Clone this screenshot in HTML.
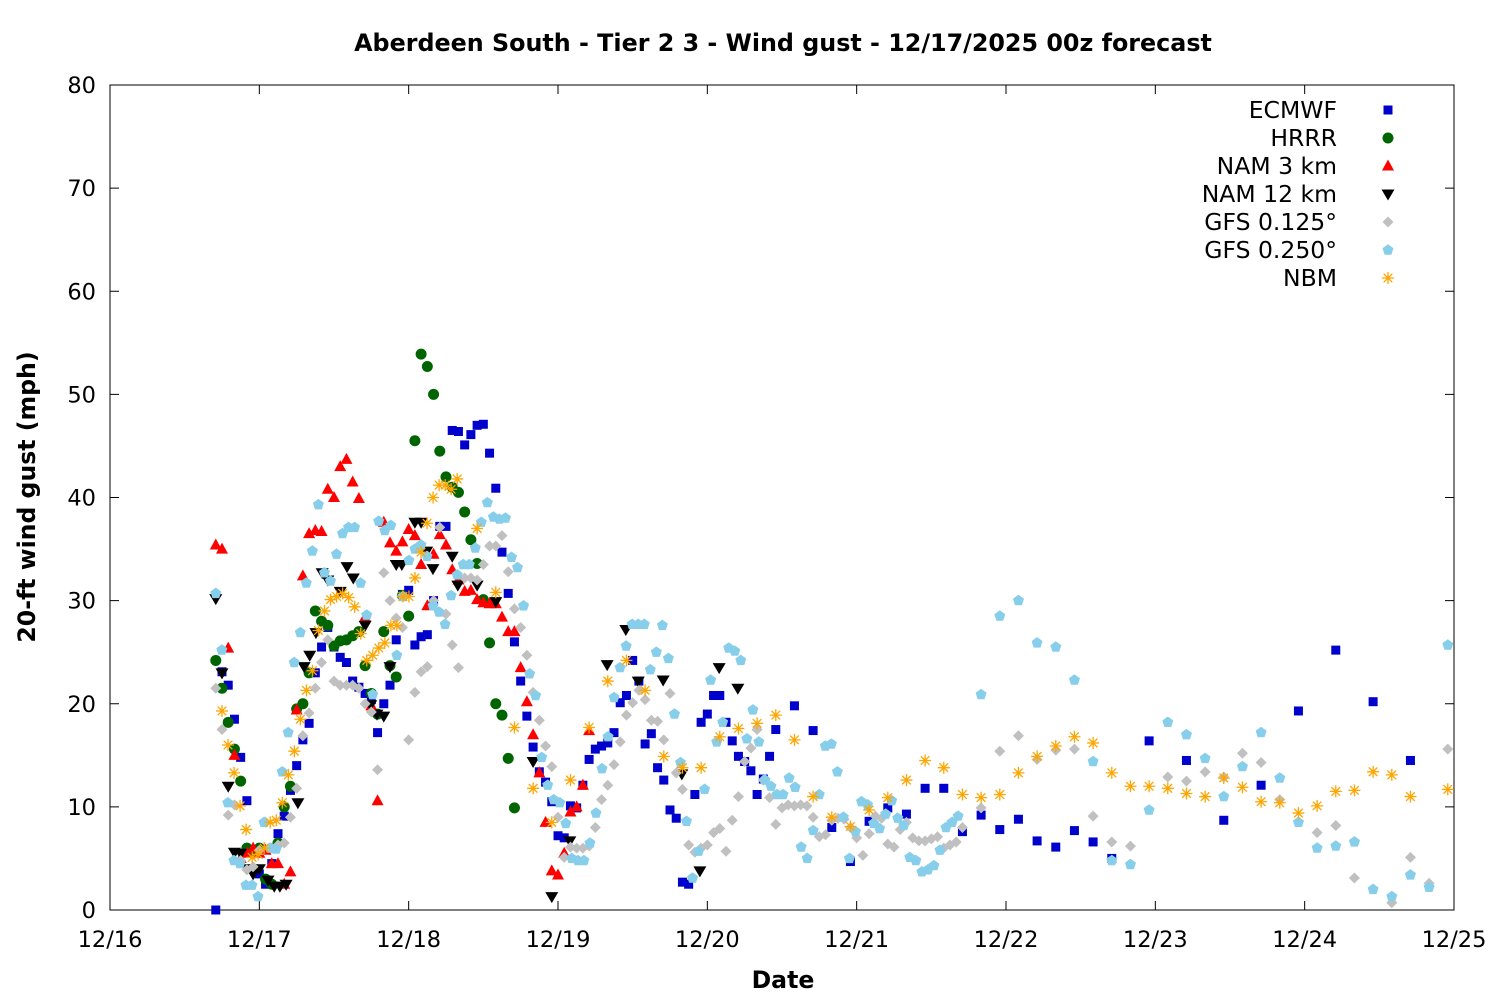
<!DOCTYPE html>
<html><head><meta charset="utf-8">
<style>
html,body{margin:0;padding:0;background:#fff;}
svg{display:block;font-family:"DejaVu Sans","Liberation Sans",sans-serif;}
</style></head>
<body>
<svg id="chart" width="1500" height="1000" viewBox="0 0 1500 1000" xmlns="http://www.w3.org/2000/svg">
<rect x="0" y="0" width="1500" height="1000" fill="#fff"/>
<text x="783" y="51" text-anchor="middle" font-size="23.8" font-weight="bold">Aberdeen South - Tier 2 3 - Wind gust - 12/17/2025 00z forecast</text>
<text transform="translate(35,497) rotate(-90)" text-anchor="middle" font-size="23.6" font-weight="bold">20-ft wind gust (mph)</text>
<text x="783" y="988" text-anchor="middle" font-size="23.6" font-weight="bold">Date</text>
<g id="axes"></g>
<g id="marks"></g>
<g id="legend"></g>
</svg>
<script>
// ---- data (hours since 12/16 00z, wind gust mph) ----
const xTickLabels = ["12/16","12/17","12/18","12/19","12/20","12/21","12/22","12/23","12/24","12/25"];
const yTickValues = [0,10,20,30,40,50,60,70,80];
function range(a,b,s){const r=[];for(let h=a;h<=b;h+=s)r.push(h);return r;}
function spread(a,b,n){const r=[];for(let i=0;i<n;i++)r.push(a+(b-a)*i/(n-1));return r;}

const ecmwfHours = range(17,107,1).concat([110,113,116,119,122,125,128,131,134,137,140,143,146,149,152,155,158,161,167,173,179,185,191,197,203,209]);
const ecmwfValues = [0,23.1,21.8,18.5,14.8,10.6,4,3.5,2.5,4.5,7.4,9.1,11.6,14,16.5,18.1,23,25.5,27.4,25.5,24.5,24,22.2,21.6,21,20.4,17.2,20,21.8,26.2,30.6,31,25.7,26.5,26.7,30,37.2,37.2,46.5,46.4,45.1,46.1,47,47.1,44.3,40.9,34.7,30.7,26,22.2,18.8,15.8,13.4,12.4,10.5,7.2,7,10.1,9.9,12.1,14.6,15.6,15.9,16.2,17.2,20.1,20.8,24.2,22.2,16.1,17.1,13.8,12.6,9.7,8.9,2.7,2.5,11.2,18.2,19,20.8,20.8,18.2,16.4,14.9,14.4,13.5,11.2,12.7,14.9,17.5,
 19.8,17.4,8,4.7,8.6,9.9,9.3,11.8,11.8,7.6,9.2,7.8,8.8,6.7,6.1,7.7,6.6,5,16.4,14.5,8.7,12.1,19.3,25.2,20.2,14.5];

const hrrrHours = range(17,65,1);
const hrrrValues = [24.2,21.5,18.2,15.6,12.5,6,5.5,6,3,2.5,6.5,10,12,19.5,20,23,29,28,27.6,25.6,26.1,26.2,26.6,27,23.7,21,19,27,23.7,22.6,30.5,28.5,45.5,53.9,52.7,50,44.5,42,41,40.5,38.6,35.9,33.6,30.1,25.9,20,18.9,14.7,9.9];

const nam3Hours = range(17,77,1);
const nam3Values = [35.4,35,25.4,15,5,5.5,6,5.5,5.8,4.5,4.5,2.5,3.7,19.4,32.4,36.5,36.8,36.7,40.8,40,43,43.7,41.5,39.9,28.4,19.8,10.6,37.6,35.6,34.8,35.7,36.9,36.3,33.5,29.5,34.5,36.4,35.4,33,32,30.9,31,30.1,29.8,29.7,29.7,28.4,27,27,23.5,20.2,17,13.3,8.5,3.8,3.4,5.5,9.5,10,12.1,17.4];

const nam12Hours = [17,18,19,20,21,22,23,24,25.4,26.4,27.3,28.3,30.2,31.2,32.1,33.1,34.1,35,37,38.1,39.1,41,41.9,42.9,44,45,46,46.9,49,50,50.9,51.9,55,55.9,59,62,68,71,73.9,79.9,82.9,84.9,88.9,91.9,94.8,97.9,100.9];
const nam12Values = [30.2,23,12,5.6,5.5,4,3.5,4,2.9,2.3,2.3,2.5,10.4,23.6,24.7,26.9,32.7,32,30.9,33.3,32.2,27.6,19.9,19,18.8,23.6,33.5,33.5,37.6,37.6,34.8,33.1,34.3,31.5,31.5,29.9,14.4,1.3,6.7,23.8,27.2,22.2,22.3,13.2,3.8,23.5,21.5];

const gfs125Hours = range(17,137,1).concat([140,143,146,149,152,155,158,161,164,170,173,176,179,182,185,188,194,197,200,206,209,212,215]);
const gfs125Values = [21.5,17.5,9.2,10.2,4.8,3.9,4.2,5.8,8.5,6,6.3,6.5,9,11.8,16.9,19.1,21.5,24,26.2,22.2,21.8,21.8,21.8,21.5,20,19.2,13.6,32.7,30,28.3,27.4,16.5,21.1,23.1,23.6,30,37.1,28.7,25.7,23.5,32.2,32.2,32,33.5,35.3,35.3,36.3,32.8,29.2,27.4,24.7,21.1,18.4,15.9,13.9,9,5.1,6.1,6,6,6.2,8,10.7,12.1,14.1,16.3,18.9,20.1,21.3,20.4,18.4,18.3,16.5,21,13.3,11.7,6.3,5.6,6,6.3,7.5,7.9,5.7,8.7,11,14.4,15.7,17.5,12.6,10.9,8.3,9.9,10.2,10.1,10.2,10.1,9,7.1,7.3,8.7,8.9,8.8,8,7,5.3,7.4,9.1,8.9,6.4,6.1,7.8,8.5,7,6.7,6.7,6.9,7.1,6,6.3,6.6,8,
 9.9,15.4,16.9,14.6,15.5,15.6,9.1,6.6,6.2,12.9,12.5,13.4,12.9,15.2,14.3,10.7,7.5,8.2,3.1,0.7,5.1,2.6,15.6];

const gfs250HourlyValues = [30.7,25.2,10.4,4.8,4.5,2.4,2.4,1.3,8.5,6,5.9,13.4,17.2,24,26.9,31.7,34.8,39.3,32.7,31.9,34.5,36.5,37.1,37.1,31.7,28.6,20.9,37.7,36.8,37.3,24.7,30.4,33.9,35,35.4,34.3,29.5,28.9,27.7,30.5,32.5,33.5,33.5,35.1,37.6,39.5,38.1,37.9,38,34.2,33.2,29.5,22.9,20.8,14.8,12.1,10.7,10.4,8.4,5,4.8,4.8,6.5,9.4,13.7,16.8,20.6,23.5,25.6,27.7,27.7,27.7,23.3,25,27.6,24.4,19,14.3,8.6,3.1,5.7,11.7,22.3,16.3,18.2,25.4,25.1,24.2,16.6,19.4,16.3,12.6,12,11.2,11.2,12.8,11.9,6.1,5,7.7,11.2,15.9,16.1,13.4,9,5,7.6,10.5,10.2,8.4,7.9,9.3,10.6,8.9,8.2,5.1,4.8,3.7,3.9,4.3,5.8,8,8.5,9.1];
const gfs250LateValues = [20.9,28.5,30,25.9,25.5,22.3,14.4,4.8,4.4,9.7,18.2,17,14.7,11,13.9,17.2,12.8,8.5,6,6.2,6.6,2,1.3,3.4,2.2,25.7];
const gfs250Hours = spread(17,136.3,gfs250HourlyValues.length).concat(range(140,215,3));
const gfs250Values = gfs250HourlyValues.concat(gfs250LateValues);

const nbmEarlyValues = [19.3,16,13.3,10.1,7.8,5.1,5.4,6,8.5,8.7,10.4,13.1,15.4,18.5,21.3,23.2,27.1,29,30.1,30.4,30.7,30.3,29.4,26.8,24.2,24.7,25.4,25.9,27.6,27.6,30.4,30.4,32.2,34.7,37.5,40,41.2,41.2,40.8,41.8];
const nbmLateValues = [37,30.8,17.7,11.8,8.5,12.6,17.7,22.2,24.2,21.3,14.9,13.8,13.8,16.8,17.6,18.1,18.9,16.5,11,9,8.1,9.7,10.9,12.6,14.5,13.8,11.2,10.9,11.2,13.3,14.9,15.9,16.8,16.2,13.3,12,12,11.8,11.3,11,12.8,11.9,10.5,10.4,9.4,10.1,11.5,11.6,13.4,13.1,11,11.7];
const nbmHours = spread(18,55.8,nbmEarlyValues.length).concat(range(59,209,3)).concat([215]);
const nbmValues = nbmEarlyValues.concat(nbmLateValues);

// ---- layout ----
const L=110,R=1454,T=85,B=910;
const xMaxH=216, yMax=80;
function xs(h){return L+(R-L)*h/xMaxH;}
function ys(v){return B-(B-T)*v/yMax;}
const NS="http://www.w3.org/2000/svg";
function mk(tag,attrs,parent){const e=document.createElementNS(NS,tag);for(const k in attrs)e.setAttribute(k,attrs[k]);parent.appendChild(e);return e;}

const axes=document.getElementById('axes');
const frame=mk('rect',{x:L,y:T,width:R-L,height:B-T,fill:'none',stroke:'#000','stroke-width':1},axes);


yTickValues.forEach(v=>{
  const y=ys(v);
  const t1=mk('line',{x1:L,x2:L+9,y1:y,y2:y,stroke:'#000'},axes);
  
  
  const t2=mk('line',{x1:R-9,x2:R,y1:y,y2:y,stroke:'#000'},axes);
  
  
  const tx=mk('text',{x:L-14,y:y+8,'text-anchor':'end','font-size':22.5},axes);
  tx.textContent=String(v);
  
  
});
xTickLabels.forEach((lab,i)=>{
  const x=xs(i*24);
  const t1=mk('line',{x1:x,x2:x,y1:B,y2:B-9,stroke:'#000'},axes);
  
  
  const t2=mk('line',{x1:x,x2:x,y1:T,y2:T+9,stroke:'#000'},axes);
  
  
  const tx=mk('text',{x:x,y:B+37,'text-anchor':'middle','font-size':22.5},axes);
  tx.textContent=lab;
  
  
});

// ---- markers ----
function drawMarker(g,type,x,y){
  let e;
  if(type==='square') e=mk('rect',{x:x-4.5,y:y-4.5,width:9,height:9,fill:'#0000cc'},g);
  else if(type==='circle') e=mk('circle',{cx:x,cy:y,r:5.5,fill:'#006400'},g);
  else if(type==='tri') e=mk('polygon',{points:`${x},${y-6.5} ${x+6},${y+4.5} ${x-6},${y+4.5}`,fill:'#ff0000'},g);
  else if(type==='itri') e=mk('polygon',{points:`${x},${y+6.5} ${x+6.5},${y-4.5} ${x-6.5},${y-4.5}`,fill:'#000'},g);
  else if(type==='diamond') e=mk('polygon',{points:`${x},${y-5.5} ${x+5.5},${y} ${x},${y+5.5} ${x-5.5},${y}`,fill:'#c0c0c0'},g);
  else if(type==='pent'){const p=[];for(let k=0;k<5;k++){const a=-Math.PI/2+k*2*Math.PI/5;p.push((x+5.8*Math.cos(a)).toFixed(1)+','+(y+5.8*Math.sin(a)).toFixed(1));}e=mk('polygon',{points:p.join(' '),fill:'#87ceeb'},g);}
  else if(type==='star'){e=mk('path',{d:`M${x-6},${y}H${x+6}M${x},${y-6}V${y+6}M${x-4.3},${y-4.3}L${x+4.3},${y+4.3}M${x-4.3},${y+4.3}L${x+4.3},${y-4.3}`,stroke:'#ffa500','stroke-width':1.3,fill:'none'},g);}
  return e;
}
const series=[
  {name:'ECMWF',type:'square',h:ecmwfHours,v:ecmwfValues,key:'ecmwf'},
  {name:'HRRR',type:'circle',h:hrrrHours,v:hrrrValues,key:'hrrr'},
  {name:'NAM 3 km',type:'tri',h:nam3Hours,v:nam3Values,key:'nam-3km'},
  {name:'NAM 12 km',type:'itri',h:nam12Hours,v:nam12Values,key:'nam-12km'},
  {name:'GFS 0.125°',type:'diamond',h:gfs125Hours,v:gfs125Values,key:'gfs-0125'},
  {name:'GFS 0.250°',type:'pent',h:gfs250Hours,v:gfs250Values,key:'gfs-0250'},
  {name:'NBM',type:'star',h:nbmHours,v:nbmValues,key:'nbm'}
];
const marks=document.getElementById('marks');
series.forEach(s=>{
  const g=mk('g',{},marks);
  
  
  const n=Math.min(s.h.length,s.v.length);
  for(let i=0;i<n;i++){
    const e=drawMarker(g,s.type,xs(s.h[i]),ys(s.v[i]));
    
    
  }
});
const legend=document.getElementById('legend');
series.forEach((s,i)=>{
  const y=110+i*28;
  const g=mk('g',{},legend);
  
  
  const t=mk('text',{x:1337,y:y+8,'text-anchor':'end','font-size':23.5},g);
  t.textContent=s.name;
  drawMarker(g,s.type,1388,y);
});
</script>
</body></html>
